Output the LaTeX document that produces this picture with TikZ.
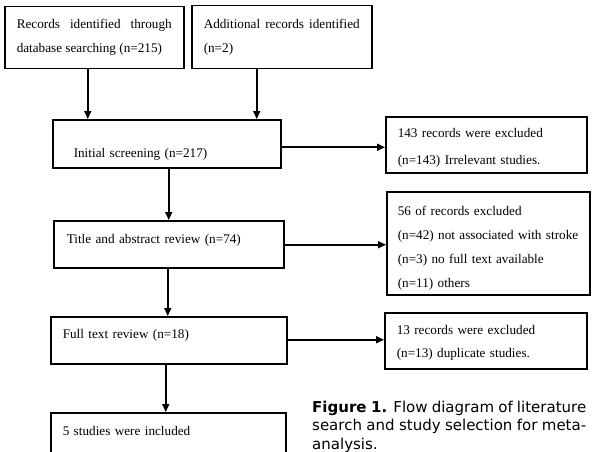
\documentclass[tikz,border=0pt]{standalone}
\usepackage{fontspec}
\setmainfont{Liberation Serif}
\newfontfamily\capfont{DejaVu Sans}
\usetikzlibrary{arrows.meta}

\begin{document}
\begin{tikzpicture}[x=1pt,y=-1pt,
  box/.style={draw, line width=1.5pt, inner ysep=0pt, anchor=north west, align=left,
    font=\fontsize{13.2}{24}\selectfont},
  arr/.style={line width=1.6pt, -{Triangle[length=8pt,width=7pt]}}]
  \clip (0,0) rectangle (594,452);
  \useasboundingbox (0,0) rectangle (594,452);

  % identification
  \node[box, align=justify, inner xsep=12pt, text width=155pt, text height=22pt, text depth=40pt]
    (db) at (4,6) {Records identified through\linebreak database searching (n=215)};
  \node[box, align=justify, inner xsep=12pt, text width=156pt, text height=23pt, text depth=40pt]
    (other) at (191,5) {Additional records identified\linebreak (n=2)};

  % screening chain
  \node[box, inner xsep=21pt, text width=186pt, text height=38pt, text depth=10pt]
    (screen) at (52,119) {Initial screening (n=217)};
  \node[box, inner xsep=13pt, text width=204pt, text height=23pt, text depth=24pt]
    (title) at (53,220) {Title and abstract review (n=74)};
  \node[box, inner xsep=12pt, text width=212pt, text height=22pt, text depth=25pt]
    (fulltext) at (50,316) {Full text review (n=18)};
  \node[box, inner xsep=12pt, text width=211pt, text height=23pt, text depth=24pt]
    (incl) at (50,412) {5 studies were included};

  % exclusions
  \node[box, inner xsep=12pt, text width=177pt, text height=21pt, text depth=35pt,
    font=\fontsize{13.2}{27}\selectfont]
    (excl1) at (385,116) {143 records were excluded\\(n=143) Irrelevant studies.};
  \node[box, inner xsep=11pt, text width=181pt, text height=24pt, text depth=79pt]
    (excl2) at (386,191) {56 of records excluded\\(n=42) not associated with stroke\\(n=3) no full text available\\(n=11) others};
  \node[box, inner xsep=12pt, text width=178pt, text height=22pt, text depth=34pt,
    font=\fontsize{13.2}{23}\selectfont]
    (excl3) at (384,312) {13 records were excluded\\(n=13) duplicate studies.};

  \node[anchor=base west, inner sep=0pt, text width=274pt, align=justify,
    font=\capfont\fontsize{15}{18.5}\selectfont]
    (cap) at (312,412) {\textbf{Figure 1.} Flow diagram of literature\linebreak search and study selection for meta-\linebreak analysis.};

  \draw[arr] ([xshift=-6.5pt]db.south) -- ([xshift=-6.5pt]db.south |- screen.north);
  \draw[arr] ([xshift=-25pt]other.south) -- ([xshift=-25pt]other.south |- screen.north);
  \draw[arr] ([xshift=2pt]screen.south) -- ([xshift=2pt]screen.south |- title.north);
  \draw[arr] ([xshift=-1pt]title.south) -- ([xshift=-1pt]title.south |- fulltext.north);
  \draw[arr] ([xshift=-3pt]fulltext.south) -- ([xshift=-3pt]fulltext.south |- incl.north);
  \draw[arr] ([yshift=-3.5pt]screen.east) -- ([yshift=-3.5pt]screen.east -| excl1.west);
  \draw[arr] ([yshift=-0.5pt]title.east) -- ([yshift=-0.5pt]title.east -| excl2.west);
  \draw[arr] ([yshift=0.5pt]fulltext.east) -- ([yshift=0.5pt]fulltext.east -| excl3.west);
\end{tikzpicture}
\end{document}
